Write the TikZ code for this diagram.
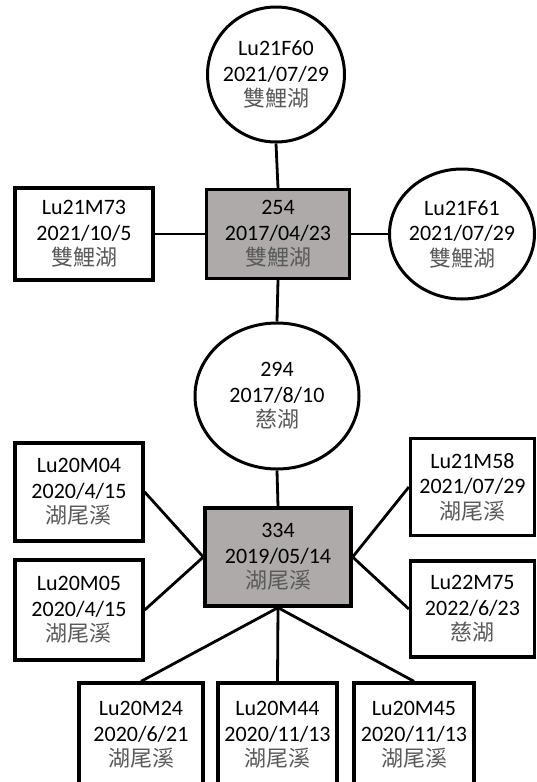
\documentclass[tikz,border=0pt]{standalone}
\usepackage{fontspec}
\setmainfont{Carlito}
\newfontfamily\cjk{Noto Sans CJK TC}
\usetikzlibrary{shapes.geometric}
\definecolor{boxgray}{RGB}{174,170,170}
\definecolor{placegray}{RGB}{90,90,90}
\newcommand{\placename}[1]{{\cjk\color{placegray}#1}}

\tikzset{
  lbl/.style={font=\fontsize{22}{25.5}\selectfont, align=center, inner sep=0pt, text=black},
  sqbox/.style 2 args={draw=black, line width=3.3pt, rectangle, fill=white,
    minimum width=#1pt, minimum height=#2pt, inner sep=0pt,
    font=\fontsize{22}{25.5}\selectfont, align=center},
  parent/.style 2 args={sqbox={#1}{#2}, fill=boxgray},
  ring/.style 2 args={draw=black, line width=3pt, ellipse, fill=white,
    minimum width=#1pt, minimum height=#2pt, inner sep=0pt},
  link/.style={draw=black, line width=2.8pt},
}

\begin{document}
\begin{tikzpicture}[x=1pt, y=-1pt]
\useasboundingbox (0,0) rectangle (537,782);

% upper family
\node[ring={137}{135}] (f60) at (276,74.5) {};
\node[lbl] (f60t) at (f60) {Lu21F60\\2021/07/29\\\placename{雙鯉湖}};

\node[parent={143}{89}] (p254) at (278,234) {254\\2017/04/23\\\placename{雙鯉湖}};

\node[sqbox={138}{92}] (m73) at (84,234) {Lu21M73\\2021/10/5\\\placename{雙鯉湖}};

\node[ring={145}{130}] (f61) at (462,234) {};
\node[lbl] (f61t) at (f61) {Lu21F61\\2021/07/29\\\placename{雙鯉湖}};

% link between the two families
\node[ring={164}{146}] (c294) at (277,396) {};
\node[lbl] (c294t) at (c294) {294\\2017/8/10\\\placename{慈湖}};

% lower family
\node[parent={146}{98}] (p334) at (278,557) {334\\2019/05/14\\\placename{湖尾溪}};

\node[sqbox={128}{98}] (m04) at (79,492) {Lu20M04\\2020/4/15\\\placename{湖尾溪}};
\node[sqbox={128}{100}] (m05) at (79,610) {Lu20M05\\2020/4/15\\\placename{湖尾溪}};
\node[sqbox={124}{97}] (m58) at (472.5,487) {Lu21M58\\2021/07/29\\\placename{湖尾溪}};
\node[sqbox={124}{96}] (m75) at (472.5,609) {Lu22M75\\2022/6/23\\\placename{慈湖}};

\node[sqbox={124}{104}] (m24) at (141,735) {Lu20M24\\2020/6/21\\\placename{湖尾溪}};
\node[sqbox={119}{104}] (m44) at (277.5,735) {Lu20M44\\2020/11/13\\\placename{湖尾溪}};
\node[sqbox={120}{104}] (m45) at (414,735) {Lu20M45\\2020/11/13\\\placename{湖尾溪}};

% connectors
\draw[link] (f60.south) -- (p254.north);
\draw[link] (m73.east) -- (p254.west);
\draw[link] (p254.east) -- (f61.west);
\draw[link] (p254.south) -- (c294.north);
\draw[link] (c294.south) -- (p334.north);
\draw[link] (m04.east) -- (p334.west);
\draw[link] (m05.east) -- (p334.west);
\draw[link] (p334.east) -- (m58.west);
\draw[link] (p334.east) -- (m75.west);
\draw[link] (p334.south) -- (m24.north);
\draw[link] (p334.south) -- (m44.north);
\draw[link] (p334.south) -- (m45.north);
\end{tikzpicture}
\end{document}
